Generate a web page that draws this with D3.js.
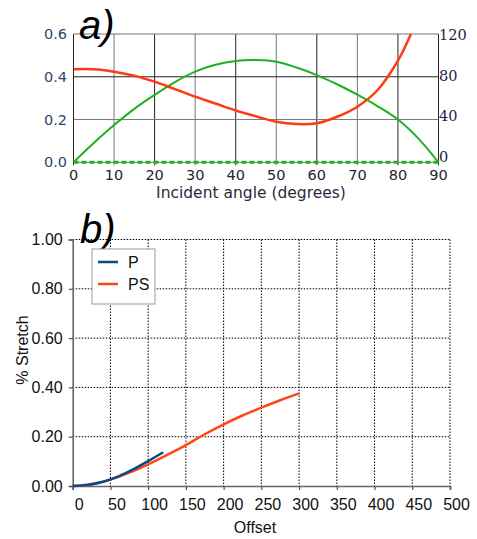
<!DOCTYPE html>
<html lang="en">
  <head>
    <meta charset="UTF-8" />
    <title>Incident angle / stretch</title>
    <script src="https://cdn.jsdelivr.net/npm/d3@7"></script>
    <style>
      body { margin: 0; background: #fff; }
    </style>
  </head>
  <body>
    <div id="svgCanvas"></div>
    <script>
      // panel a data
      var angleTicks = [0, 10, 20, 30, 40, 50, 60, 70, 80, 90];
      var leftTicks = [0.0, 0.2, 0.4, 0.6];
      var rightTicks = [0, 40, 80, 120];
      var greenAngle = [0, 5, 10, 15, 20, 25, 30, 35, 40, 45, 50, 55, 60, 65, 70, 75, 80, 85, 90];
      var greenVal = [0, 0.09, 0.174, 0.25, 0.315, 0.375, 0.424, 0.456, 0.474, 0.478, 0.47, 0.443, 0.408, 0.365, 0.316, 0.262, 0.2, 0.112, 0];
      var redAngle = [0, 5, 10, 15, 20, 25, 30, 35, 40, 45, 50, 55, 60, 65, 70, 75, 80, 83.2];
      var redVal = [87, 87, 84.7, 81, 75.4, 68.5, 61.4, 55, 48.5, 43, 38, 35.8, 36.5, 42.6, 52, 67.6, 95, 120];
      var zeroAngle = [0, 90];
      var zeroVal = [0, 0];

      // panel b data
      var offsetTicks = [0, 50, 100, 150, 200, 250, 300, 350, 400, 450, 500];
      var stretchTicks = [0, 0.2, 0.4, 0.6, 0.8, 1.0];
      var pOffset = [0, 20, 40, 60, 80, 100, 120];
      var pStretch = [0, 0.005, 0.017, 0.038, 0.067, 0.101, 0.137];
      var psOffset = [0, 25, 50, 75, 100, 125, 150, 175, 200, 225, 250, 275, 300];
      var psStretch = [0, 0.006, 0.026, 0.054, 0.088, 0.126, 0.166, 0.21, 0.25, 0.286, 0.318, 0.348, 0.376];
      var legendNames = ["P", "PS"];

      var canvas = d3.select("#svgCanvas").append("svg")
        .attr("width", 477).attr("height", 539);

      function zip(xs, ys) {
        return xs.map(function(d, i) { return [d, ys[i]]; });
      }

      /* ---------- panel a ---------- */
      var xa = d3.scaleLinear().domain([0, 90]).range([73.5, 438.5]);
      var yl = d3.scaleLinear().domain([0, 0.6]).range([162.3, 34]);
      var yr = d3.scaleLinear().domain([0, 120]).range([162.3, 34]);
      // right labels sit a little higher than their lines in the original
      var yrLabel = d3.scaleLinear().domain([0, 120]).range([157, 35]);
      var ga = canvas.append("g");

      // grid
      angleTicks.forEach(function(t, i) {
        ga.append("line")
          .attr("x1", xa(t)).attr("x2", xa(t))
          .attr("y1", yl(0.6)).attr("y2", yl(0) + 3)
          .attr("stroke", t == 90 || i % 2 == 0 ? "#222" : "#777")
          .attr("stroke-width", 1);
      });
      leftTicks.forEach(function(t) {
        ga.append("line")
          .attr("x1", xa(0)).attr("x2", xa(90))
          .attr("y1", yl(t)).attr("y2", yl(t))
          .attr("stroke", t == 0.4 ? "#222" : "#777")
          .attr("stroke-width", 1);
      });

      // tick labels
      ga.selectAll("text.yl").data(leftTicks).enter().append("text")
        .attr("x", 67).attr("y", function(d) { return yl(d); })
        .attr("dy", "0.35em").attr("text-anchor", "end")
        .attr("font-family", "DejaVu Sans").attr("font-size", 14.5)
        .attr("fill", "#2d4670")
        .text(function(d) { return d.toFixed(1); });
      ga.selectAll("text.yr").data(rightTicks).enter().append("text")
        .attr("x", 439).attr("y", function(d) { return yrLabel(d); })
        .attr("dy", "0.35em")
        .attr("font-family", "DejaVu Serif").attr("font-size", 14.5)
        .attr("fill", "#1c2448")
        .text(function(d) { return d; });
      ga.selectAll("text.xa").data(angleTicks).enter().append("text")
        .attr("x", function(d) { return xa(d); }).attr("y", 180)
        .attr("text-anchor", "middle")
        .attr("font-family", "DejaVu Sans").attr("font-size", 14.5)
        .attr("fill", "#2a2230")
        .text(function(d) { return d; });
      ga.append("text")
        .attr("x", 251).attr("y", 198)
        .attr("text-anchor", "middle")
        .attr("font-family", "DejaVu Sans").attr("font-size", 15.5)
        .attr("fill", "#2a2a40")
        .text("Incident angle (degrees)");

      // curves
      var lineL = d3.line().curve(d3.curveCatmullRom)
        .x(function(d) { return xa(d[0]); }).y(function(d) { return yl(d[1]); });
      var lineR = d3.line().curve(d3.curveCatmullRom)
        .x(function(d) { return xa(d[0]); }).y(function(d) { return yr(d[1]); });

      ga.append("path").attr("d", lineL(zip(greenAngle, greenVal)))
        .attr("fill", "none").attr("stroke", "#1fb01f").attr("stroke-width", 2);
      ga.append("path").attr("d", lineR(zip(redAngle, redVal)))
        .attr("fill", "none").attr("stroke", "#ff3a12").attr("stroke-width", 2.5);
      ga.append("path").attr("d", lineL(zip(zeroAngle, zeroVal)))
        .attr("fill", "none").attr("stroke", "#22b022").attr("stroke-width", 3)
        .attr("stroke-dasharray", "5,3");

      ga.append("text")
        .attr("x", 79).attr("y", 39)
        .attr("font-family", "Liberation Sans").attr("font-style", "italic")
        .attr("font-size", 40).attr("fill", "#000")
        .text("a)");

      /* ---------- panel b ---------- */
      var xb = d3.scaleLinear().domain([0, 500]).range([72.7, 450]);
      var yb = d3.scaleLinear().domain([0, 1]).range([486, 239.5]);
      var gb = canvas.append("g");

      // dotted grid
      offsetTicks.slice(1).forEach(function(t) {
        gb.append("line")
          .attr("x1", xb(t)).attr("x2", xb(t))
          .attr("y1", yb(1)).attr("y2", yb(0))
          .attr("stroke", "#000").attr("stroke-width", 1)
          .attr("stroke-dasharray", "1.5,1.5");
      });
      stretchTicks.slice(1).forEach(function(t) {
        gb.append("line")
          .attr("x1", xb(0)).attr("x2", xb(500))
          .attr("y1", yb(t)).attr("y2", yb(t))
          .attr("stroke", "#000").attr("stroke-width", 1)
          .attr("stroke-dasharray", "1.5,1.5");
      });

      // axes
      var xAxis = d3.axisBottom(xb).tickValues(offsetTicks).tickSize(4).tickFormat(function(d) { return d; });
      var yAxis = d3.axisLeft(yb).tickValues(stretchTicks).tickSize(4).tickFormat(d3.format(".2f"));
      var gx = gb.append("g").attr("transform", "translate(0," + yb(0) + ")").call(xAxis);
      var gy = gb.append("g").attr("transform", "translate(" + xb(0) + ",0)").call(yAxis);
      [gx, gy].forEach(function(g) {
        g.select(".domain").attr("stroke", "#666").attr("stroke-width", 1.6);
        g.selectAll(".tick line").attr("stroke", "#555").attr("stroke-width", 1.2);
        g.selectAll(".tick text").attr("font-family", "Liberation Sans")
          .attr("font-size", 16).attr("fill", "#111");
      });
      gx.selectAll(".tick text").attr("dx", 6).attr("y", 13);
      gy.selectAll(".tick text").attr("x", -10);

      gb.append("text")
        .attr("x", 255).attr("y", 533)
        .attr("text-anchor", "middle")
        .attr("font-family", "Liberation Sans").attr("font-size", 16)
        .attr("fill", "#111")
        .text("Offset");
      gb.append("text")
        .attr("transform", "translate(28,350) rotate(-90)")
        .attr("text-anchor", "middle")
        .attr("font-family", "Liberation Sans").attr("font-size", 16)
        .attr("fill", "#111")
        .text("% Stretch");

      // curves
      var lineB = d3.line().curve(d3.curveCatmullRom)
        .x(function(d) { return xb(d[0]); }).y(function(d) { return yb(d[1]); });
      gb.append("path").attr("d", lineB(zip(psOffset, psStretch)))
        .attr("fill", "none").attr("stroke", "#ff4716").attr("stroke-width", 2.5);
      gb.append("path").attr("d", lineB(zip(pOffset, pStretch)))
        .attr("fill", "none").attr("stroke", "#0b4a88").attr("stroke-width", 2.5);

      gb.append("text")
        .attr("x", 80).attr("y", 243)
        .attr("font-family", "Liberation Sans").attr("font-style", "italic")
        .attr("font-size", 40).attr("fill", "#000")
        .text("b)");

      // legend
      var colors = ["#0b4a88", "#ff4716"];
      var lg = gb.append("g").attr("transform", "translate(92,249)");
      lg.append("rect").attr("width", 63).attr("height", 55)
        .attr("fill", "#fff").attr("stroke", "#999").attr("stroke-width", 1);
      legendNames.forEach(function(n, i) {
        lg.append("line")
          .attr("x1", 6).attr("x2", 26)
          .attr("y1", 13 + i * 22).attr("y2", 13 + i * 22)
          .attr("stroke", colors[i]).attr("stroke-width", 2.5);
        lg.append("text")
          .attr("x", 36).attr("y", 13 + i * 22).attr("dy", "0.35em")
          .attr("font-family", "Liberation Sans").attr("font-size", 16)
          .attr("fill", "#111")
          .text(n);
      });
    </script>
  </body>
</html>
